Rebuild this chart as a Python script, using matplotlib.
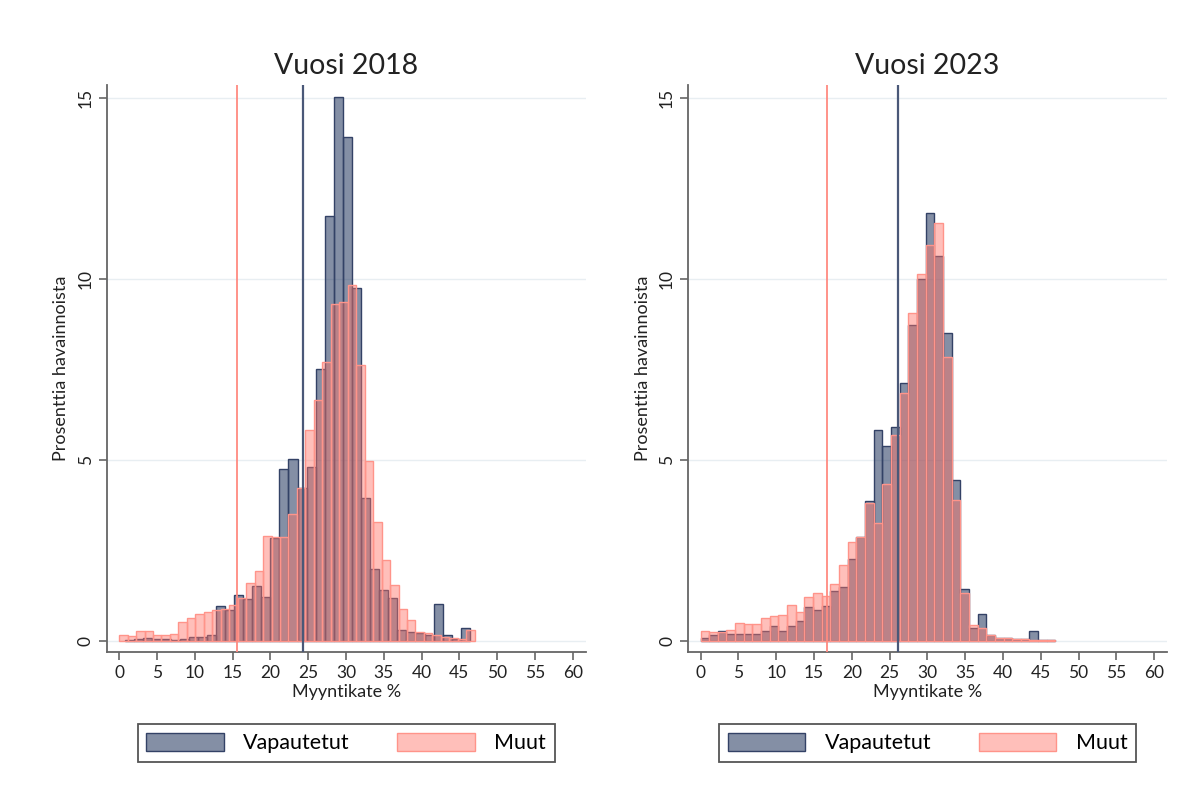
import numpy as np
import matplotlib.pyplot as plt

plt.rcParams['font.family'] = ['Lato', 'DejaVu Sans']

muut_2018 = [0.18, 0.14, 0.28, 0.28, 0.18, 0.18, 0.20, 0.52, 0.63, 0.75,
             0.80, 0.87, 0.90, 1.00, 1.20, 1.60, 1.95, 2.90, 2.88, 2.88,
             3.50, 4.24, 5.84, 6.66, 7.70, 9.30, 9.37, 9.82, 7.63, 4.97,
             3.30, 2.25, 1.56, 0.90, 0.57, 0.26, 0.22, 0.18, 0.11, 0.10,
             0.05, 0.30]
vap_2018 = [0.02, 0.05, 0.09, 0.07, 0.06, 0.04, 0.07, 0.11, 0.12, 0.16,
            0.97, 0.85, 1.27, 1.17, 1.52, 1.22, 2.86, 4.74, 5.02, 4.22,
            4.80, 7.50, 11.74, 15.03, 13.93, 9.75, 3.94, 2.00, 1.40, 1.20,
            0.30, 0.25, 0.22, 0.18, 1.03, 0.18, 0.05, 0.37]
muut_2023 = [0.28, 0.26, 0.26, 0.30, 0.51, 0.48, 0.48, 0.63, 0.69, 0.72,
             1.01, 0.80, 1.22, 1.34, 1.24, 1.58, 2.11, 2.75, 2.88, 3.80,
             3.25, 4.34, 5.69, 6.86, 9.07, 10.13, 10.94, 11.54, 7.85, 3.90,
             1.32, 0.44, 0.35, 0.17, 0.10, 0.10, 0.05, 0.05, 0.03, 0.02,
             0.02]
vap_2023 = [0.09, 0.18, 0.28, 0.20, 0.20, 0.20, 0.20, 0.29, 0.41, 0.28,
            0.41, 0.55, 0.94, 0.86, 0.97, 1.38, 1.50, 2.26, 2.88, 3.88,
            5.83, 5.40, 5.92, 7.14, 8.73, 9.99, 11.83, 10.62, 8.50, 4.45,
            1.43, 0.35, 0.75, 0.17, 0.10, 0.10, 0.05, 0.05, 0.29, 0.02,
            0.02]

# bin start and width of each histogram
bins_muut_2018 = (0.0, 1.12)
bins_vap_2018 = (0.8, 1.2)
bins_muut_2023 = (0.0, 1.145)
bins_vap_2023 = (0.0, 1.145)

# medians (vertical lines)
median_2018 = {'Vapautetut': 24.3, 'Muut': 15.6}
median_2023 = {'Vapautetut': 26.1, 'Muut': 16.75}

years = ['2018', '2023']

blue_fill = (0.12, 0.2, 0.36, 0.55)
blue_edge = (0.2, 0.26, 0.4)
pink_fill = (1.0, 0.45, 0.4, 0.45)
pink_edge = (1.0, 0.58, 0.54)
blue_line = '#4a5878'
pink_line = '#ff8a80'
axis_gray = '#666666'

fig = plt.figure(figsize=(12, 8), dpi=100)
ax1 = fig.add_axes([0.089, 0.185, 0.399, 0.709])
ax2 = fig.add_axes([0.5735, 0.185, 0.399, 0.709])

panels = [
    (ax1, vap_2018, muut_2018, bins_vap_2018, bins_muut_2018, median_2018, years[0]),
    (ax2, vap_2023, muut_2023, bins_vap_2023, bins_muut_2023, median_2023, years[1]),
]

for ax, vap, muut, bv, bm, med, year in panels:
    ev = bv[0] + bv[1] * np.arange(len(vap))
    em = bm[0] + bm[1] * np.arange(len(muut))
    ax.bar(ev, vap, width=bv[1], align='edge', color=blue_fill,
           edgecolor=blue_edge, linewidth=1.0, label='Vapautetut', zorder=2)
    ax.bar(em, muut, width=bm[1], align='edge', color=pink_fill,
           edgecolor=pink_edge, linewidth=1.0, label='Muut', zorder=3)

    ax.axvline(med['Vapautetut'], color=blue_line, linewidth=1.6, zorder=4)
    ax.axvline(med['Muut'], color=pink_line, linewidth=1.3, zorder=4)

    ax.set_xlim(-1.63, 61.7)
    ax.set_ylim(-0.3, 15.36)
    ax.set_xticks(np.arange(0, 61, 5))
    ax.set_yticks([0, 5, 10, 15])
    ax.grid(axis='y', color='#e8eef2', linewidth=1.0, zorder=0)
    ax.set_axisbelow(True)

    for s in ['top', 'right']:
        ax.spines[s].set_visible(False)
    for s in ['left', 'bottom']:
        ax.spines[s].set_color(axis_gray)
        ax.spines[s].set_linewidth(1.3)
    ax.tick_params(axis='both', colors=axis_gray, labelcolor='#222222',
                   labelsize=12.5, length=6, width=1.2)
    ax.tick_params(axis='y', labelrotation=90)
    for lbl in ax.get_yticklabels():
        lbl.set_va('center')

    ax.set_title('Vuosi ' + year, fontsize=20.5, color='#222222', pad=8)
    ax.set_xlabel('Myyntikate %', fontsize=13, color='#222222', labelpad=2)
    ax.set_ylabel('Prosenttia havainnoista', fontsize=13, color='#222222',
                  labelpad=6)

    leg = ax.legend(loc='upper center', bbox_to_anchor=(0.5, -0.108), ncol=2,
                    fontsize=15.5, handlelength=3.6, handleheight=0.95,
                    handletextpad=0.9, columnspacing=2.2, fancybox=False,
                    edgecolor='#555555', borderpad=0.4, framealpha=1)
    leg.get_frame().set_linewidth(1.3)

fig.savefig('out.png', dpi=100, facecolor='white')
